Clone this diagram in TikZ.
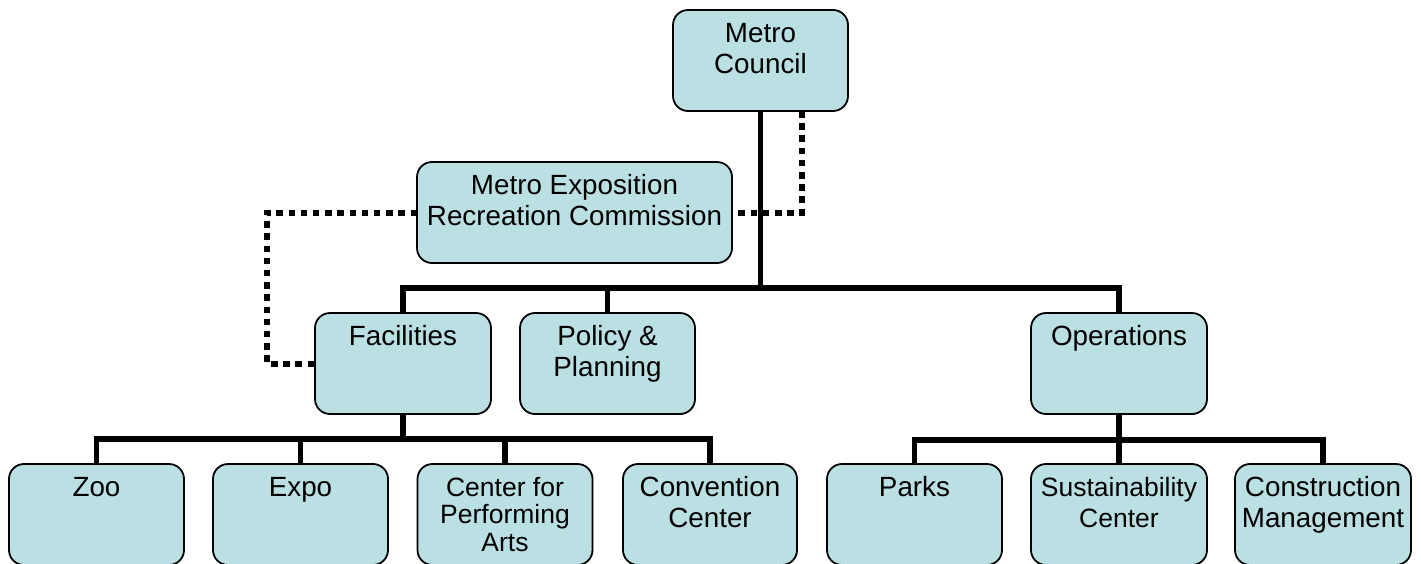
\documentclass[tikz,border=0pt]{standalone}
\usepackage{fontspec}
\setmainfont{Liberation Sans}
\definecolor{boxfill}{RGB}{187,224,227}
\newcommand{\orgtext}[2]{\parbox[t][101pt][t]{#1}{\centering\rule{0pt}{32pt}#2\par}}
\begin{document}
\begin{tikzpicture}[x=1pt,y=-1pt,
  orgbox/.style={draw=black, line width=1.8pt, fill=boxfill, rounded corners=15pt,
    inner sep=0pt, outer sep=0pt, anchor=north, font=\fontsize{27.8}{31.5}\selectfont},
  smallbox/.style={orgbox, font=\fontsize{26.5}{27.5}\selectfont},
  conn/.style={draw=black, line width=5.5pt, line join=miter},
  dotconn/.style={draw=black, line width=6pt, dash pattern=on 6.5pt off 5.7pt}]
\useasboundingbox (0,0) rectangle (1421,563);
% boxes
\node[orgbox] (mc) at (760.5,10) {\orgtext{175pt}{Metro\\Council}};
\node[orgbox] (merc) at (574.5,162) {\orgtext{315pt}{Metro Exposition\\Recreation Commission}};
\node[orgbox] (fac) at (403,313) {\orgtext{176pt}{Facilities}};
\node[orgbox] (pol) at (607.5,313) {\orgtext{175pt}{Policy \&\\Planning}};
\node[orgbox] (ops) at (1119,313) {\orgtext{176pt}{Operations}};
\node[orgbox] (zoo) at (96.5,464) {\orgtext{175pt}{Zoo}};
\node[orgbox] (expo) at (300.5,464) {\orgtext{175pt}{Expo}};
\node[smallbox] (cpa) at (505,464) {\orgtext{175pt}{Center for\\Performing\\Arts}};
\node[orgbox] (conv) at (710,464) {\orgtext{174pt}{Convention\\Center}};
\node[orgbox] (parks) at (914.5,464) {\orgtext{175pt}{Parks}};
\node[orgbox, font=\fontsize{26.5}{31}\selectfont] (sus) at (1119,464) {\orgtext{176pt}{Sustainability\\Center}};
\node[orgbox] (cm) at (1323,464) {\orgtext{176pt}{Construction\\Management}};
% bus coordinates
\coordinate (bus1) at (0,288);
\coordinate (bus2) at (0,439);
\coordinate (bus3) at (0,440);
\coordinate (d1) at (802,111);
% dotted connectors
\draw[dotconn] (d1) |- (merc.east);
\draw[dotconn] (merc.west) -- ++(-150,0) |- (fac.west);
% solid connectors
\draw[conn] (mc.south) -- (mc.south |- bus1);
\draw[conn] (fac.north) -- (fac.north |- bus1) -- (ops.north |- bus1) -- (ops.north);
\draw[conn] (pol.north) -- (pol.north |- bus1);
\draw[conn] (fac.south) -- (fac.south |- bus2);
\draw[conn] (zoo.north) -- (zoo.north |- bus2) -- (conv.north |- bus2) -- (conv.north);
\draw[conn] (expo.north) -- (expo.north |- bus2);
\draw[conn] (cpa.north) -- (cpa.north |- bus2);
\draw[conn] (ops.south) -- (ops.south |- bus3);
\draw[conn] (parks.north) -- (parks.north |- bus3) -- (cm.north |- bus3) -- (cm.north);
\draw[conn] (sus.north) -- (sus.north |- bus3);
\end{tikzpicture}
\end{document}
